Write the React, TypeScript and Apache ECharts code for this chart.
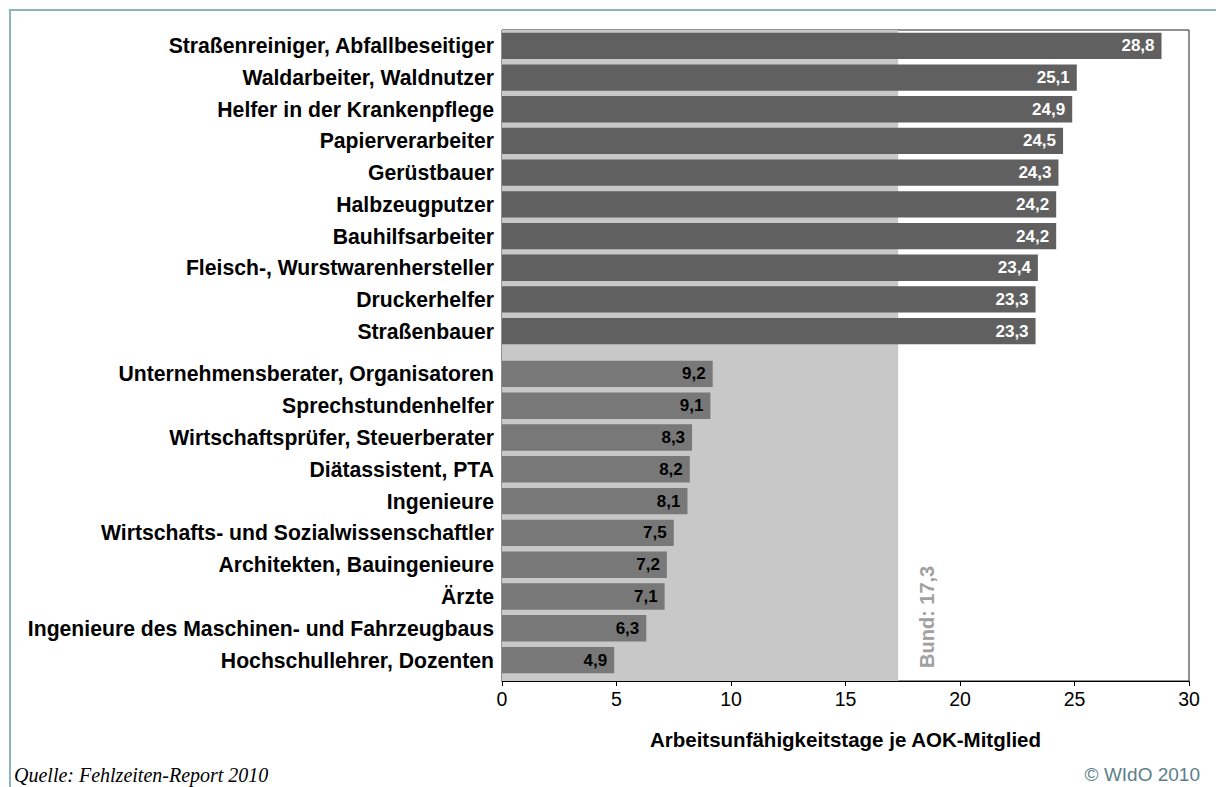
import React, { useEffect, useRef } from "react";
import * as echarts from "echarts";

const topCategories = [
  "Straßenreiniger, Abfallbeseitiger",
  "Waldarbeiter, Waldnutzer",
  "Helfer in der Krankenpflege",
  "Papierverarbeiter",
  "Gerüstbauer",
  "Halbzeugputzer",
  "Bauhilfsarbeiter",
  "Fleisch-, Wurstwarenhersteller",
  "Druckerhelfer",
  "Straßenbauer",
];
const topValues = [28.8, 25.1, 24.9, 24.5, 24.3, 24.2, 24.2, 23.4, 23.3, 23.3];

const bottomCategories = [
  "Unternehmensberater, Organisatoren",
  "Sprechstundenhelfer",
  "Wirtschaftsprüfer, Steuerberater",
  "Diätassistent, PTA",
  "Ingenieure",
  "Wirtschafts- und Sozialwissenschaftler",
  "Architekten, Bauingenieure",
  "Ärzte",
  "Ingenieure des Maschinen- und Fahrzeugbaus",
  "Hochschullehrer, Dozenten",
];
const bottomValues = [9.2, 9.1, 8.3, 8.2, 8.1, 7.5, 7.2, 7.1, 6.3, 4.9];

const bundValue = 17.3;
const bundLabel = "Bund: 17,3";
const xTicks = { min: 0, max: 30, interval: 5 };
const xAxisTitle = "Arbeitsunfähigkeitstage je AOK-Mitglied";
const sourceText = "Quelle: Fehlzeiten-Report 2010";
const copyrightText = "© WIdO 2010";

const FONT = "Liberation Sans, Arial, sans-serif";
const fmt = (v: number) => v.toFixed(1).replace(".", ",");

export default function App() {
  const ref = useRef<HTMLDivElement>(null);
  useEffect(() => {
    if (!ref.current) return;
    const chart = echarts.init(ref.current, undefined, { renderer: "svg" });
    const left = 502;
    const right = 1216 - 1189;
    const hiddenX = (gridIndex: number) => ({
      type: "value",
      gridIndex,
      min: xTicks.min,
      max: xTicks.max,
      interval: xTicks.interval,
      show: false,
    });
    const catY = (gridIndex: number, data: string[]) => ({
      type: "category",
      gridIndex,
      data,
      inverse: true,
      axisLine: { show: false },
      axisTick: { show: false },
      axisLabel: {
        fontFamily: FONT,
        fontSize: 21.2,
        fontWeight: "bold",
        color: "#000",
        margin: 8,
      },
    });
    const barSeries = (idx: number, data: number[], color: string, labelColor: string) => ({
      type: "bar",
      xAxisIndex: idx,
      yAxisIndex: idx,
      data,
      z: 5,
      barCategoryGap: "17%",
      itemStyle: { color },
      label: {
        show: true,
        position: "insideRight",
        distance: 7,
        formatter: (p: any) => fmt(p.value),
        fontFamily: FONT,
        fontSize: 17,
        fontWeight: "bold",
        color: labelColor,
      },
    });
    chart.setOption({
      animation: false,
      grid: [
        {
          left,
          right,
          top: 30,
          height: 651,
          show: true,
          borderColor: "#222",
          borderWidth: 1,
          backgroundColor: "transparent",
        },
        { left, right, top: 30, height: 317 },
        { left, right, top: 358, height: 318 },
      ],
      xAxis: [
        {
          type: "value",
          gridIndex: 0,
          min: xTicks.min,
          max: xTicks.max,
          interval: xTicks.interval,
          axisLine: { show: true, lineStyle: { color: "#000", width: 1 } },
          axisTick: { show: true, length: 5, lineStyle: { color: "#000" } },
          splitLine: { show: false },
          axisLabel: { fontFamily: FONT, fontSize: 19.5, color: "#000", margin: 8 },
          name: xAxisTitle,
          nameLocation: "middle",
          nameGap: 48,
          nameTextStyle: { fontFamily: FONT, fontSize: 20.5, fontWeight: "bold", color: "#000" },
        },
        hiddenX(1),
        hiddenX(2),
      ],
      yAxis: [
        { type: "value", gridIndex: 0, min: 0, max: 1, show: false },
        catY(1, topCategories),
        catY(2, bottomCategories),
      ],
      series: [
        {
          type: "scatter",
          xAxisIndex: 0,
          yAxisIndex: 0,
          data: [],
          z: 1,
          markArea: {
            silent: true,
            itemStyle: { color: "#c8c8c8" },
            data: [[{ xAxis: 0 }, { xAxis: bundValue }]],
          },
        },
        barSeries(1, topValues, "#606060", "#ffffff"),
        barSeries(2, bottomValues, "#787878", "#000000"),
      ],
    });
    const p = chart.convertToPixel({ gridIndex: 0 }, [bundValue, 0]) as number[];
    chart.setOption({
      graphic: [
        {
          type: "line",
          shape: { x1: 9, y1: 10, x2: 1216, y2: 10 },
          style: { stroke: "#8cb4bc", lineWidth: 2 },
        },
        {
          type: "line",
          shape: { x1: 10, y1: 10, x2: 10, y2: 787 },
          style: { stroke: "#8cb4bc", lineWidth: 2 },
        },
        {
          type: "text",
          x: p[0] + 29,
          y: p[1] - 13,
          rotation: Math.PI / 2,
          style: {
            text: bundLabel,
            fontFamily: FONT,
            fontSize: 20,
            fontWeight: "bold",
            fill: "#a0a0a0",
            align: "left",
            verticalAlign: "middle",
          },
        },
        {
          type: "text",
          left: 14,
          top: 765,
          style: {
            text: sourceText,
            fontFamily: "Liberation Serif, Times New Roman, serif",
            fontStyle: "italic",
            fontSize: 20,
            fill: "#000",
          },
        },
        {
          type: "text",
          right: 16,
          top: 765,
          style: {
            text: copyrightText,
            fontFamily: FONT,
            fontSize: 19,
            fill: "#5b7f89",
          },
        },
      ],
    });
    return () => chart.dispose();
  }, []);
  return (
    <div
      ref={ref}
      style={{ position: "absolute", left: 0, top: 0, width: 1216, height: 787 }}
    />
  );
}
